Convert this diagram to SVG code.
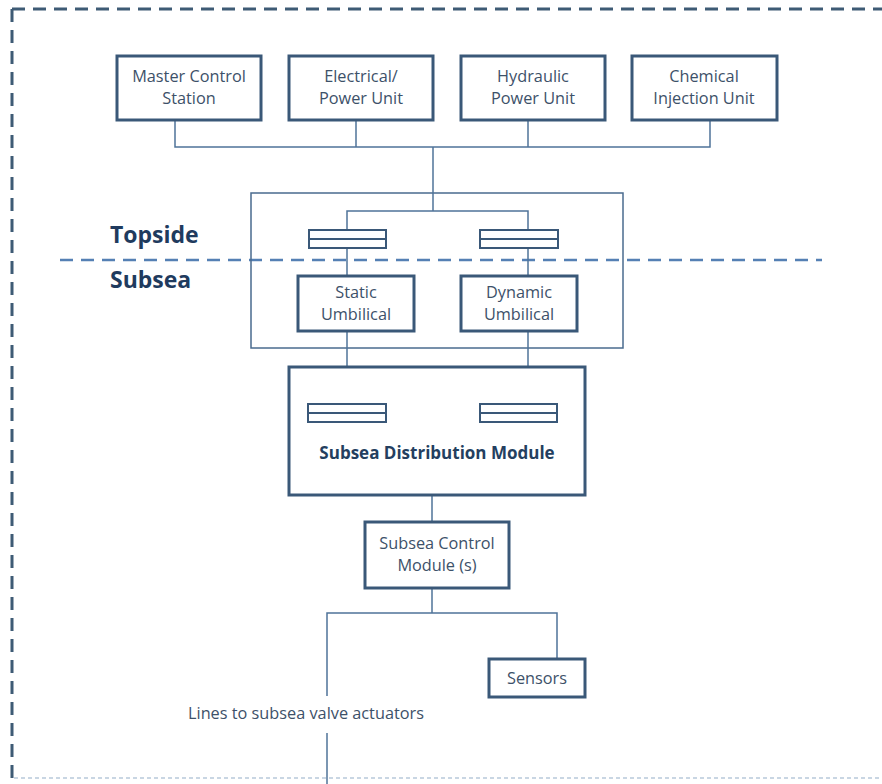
<svg xmlns="http://www.w3.org/2000/svg" width="882" height="784" viewBox="0 0 882 784">
  <style>
    .frame { fill: none; stroke: #3e5b75; stroke-width: 3; stroke-dasharray: 13 8; }
    .split { fill: none; stroke: #5580b4; stroke-width: 2.5; stroke-dasharray: 13 8; }
    .box { fill: #ffffff; stroke: #3a5878; stroke-width: 3; }
    .enclosure { fill: none; stroke: #4a6b8e; stroke-width: 1.5; }
    .joint { fill: #ffffff; stroke: #3a5878; stroke-width: 2; }
    .wire { fill: none; stroke: #4f7399; stroke-width: 1.5; }
    .lbl { font-family: "Open Sans", "Liberation Sans", sans-serif; font-size: 16.3px; fill: #3d5169; text-anchor: middle; }
    .zone { font-family: "Open Sans", "Liberation Sans", sans-serif; font-size: 23px; font-weight: bold; fill: #1f3b5e; }
    .strong { font-family: "Open Sans", "Liberation Sans", sans-serif; font-size: 17px; font-weight: bold; fill: #243f5f; text-anchor: middle; }
  </style>

  <rect width="882" height="784" fill="#ffffff"/>

  <!-- outer boundary -->
  <g id="boundary">
    <line class="frame" x1="12" y1="9" x2="882" y2="9"/>
    <line class="frame" x1="12" y1="9" x2="12" y2="784"/>
    <line x1="14" y1="778" x2="882" y2="778" stroke="#c9d6e3" stroke-width="2" stroke-dasharray="4 3"/>
  </g>

  <!-- topside / subsea split -->
  <g id="waterline">
    <line class="split" x1="60" y1="260" x2="822" y2="260"/>
    <text class="zone" x="110" y="243">Topside</text>
    <text class="zone" x="110" y="288">Subsea</text>
  </g>

  <!-- umbilical enclosure -->
  <g id="umbilical-enclosure">
    <rect class="enclosure" x="251" y="193" width="372" height="155"/>
  </g>

  <!-- connectors -->
  <g id="connectors">
    <path class="wire" d="M175 120 V147 H710 V120"/>
    <path class="wire" d="M356 120 V147"/>
    <path class="wire" d="M528 120 V147"/>
    <path class="wire" d="M433 147 V211"/>
    <path class="wire" d="M347 230 V211 H528 V230"/>
    <path class="wire" d="M347 248 V276"/>
    <path class="wire" d="M528 248 V276"/>
    <path class="wire" d="M347 331 V404"/>
    <path class="wire" d="M528 331 V404"/>
    <path class="wire" d="M432 495 V522"/>
    <path class="wire" d="M432 588 V613"/>
    <path class="wire" d="M327 696 V613 H557 V659"/>
    <path class="wire" d="M327 733 V784"/>
  </g>

  <!-- topside units -->
  <g id="master-control-station">
    <rect class="box" x="117" y="56" width="144" height="64"/>
    <text class="lbl" x="189" y="82">Master Control</text>
    <text class="lbl" x="189" y="104">Station</text>
  </g>
  <g id="electrical-power-unit">
    <rect class="box" x="289" y="56" width="144" height="64"/>
    <text class="lbl" x="361" y="82">Electrical/</text>
    <text class="lbl" x="361" y="104">Power Unit</text>
  </g>
  <g id="hydraulic-power-unit">
    <rect class="box" x="461" y="56" width="144" height="64"/>
    <text class="lbl" x="533" y="82">Hydraulic</text>
    <text class="lbl" x="533" y="104">Power Unit</text>
  </g>
  <g id="chemical-injection-unit">
    <rect class="box" x="632" y="56" width="145" height="64"/>
    <text class="lbl" x="704" y="82">Chemical</text>
    <text class="lbl" x="704" y="104">Injection Unit</text>
  </g>

  <!-- topside terminations -->
  <g id="topside-joint-static">
    <rect class="joint" x="309" y="230" width="77" height="18"/>
    <line class="joint" x1="309" y1="239" x2="386" y2="239"/>
  </g>
  <g id="topside-joint-dynamic">
    <rect class="joint" x="480" y="230" width="78" height="18"/>
    <line class="joint" x1="480" y1="239" x2="558" y2="239"/>
  </g>

  <!-- umbilicals -->
  <g id="static-umbilical">
    <rect class="box" x="298" y="276" width="116" height="55"/>
    <text class="lbl" x="356" y="298">Static</text>
    <text class="lbl" x="356" y="320">Umbilical</text>
  </g>
  <g id="dynamic-umbilical">
    <rect class="box" x="461" y="276" width="116" height="55"/>
    <text class="lbl" x="519" y="298">Dynamic</text>
    <text class="lbl" x="519" y="320">Umbilical</text>
  </g>

  <!-- subsea distribution module -->
  <g id="subsea-distribution-module">
    <rect class="box" x="289" y="367" width="296" height="128"/>
    <rect class="joint" x="308" y="404" width="78" height="18"/>
    <line class="joint" x1="308" y1="413" x2="386" y2="413"/>
    <rect class="joint" x="480" y="404" width="77" height="18"/>
    <line class="joint" x1="480" y1="413" x2="557" y2="413"/>
    <text class="strong" x="437" y="459">Subsea Distribution Module</text>
  </g>

  <!-- subsea control module -->
  <g id="subsea-control-module">
    <rect class="box" x="365" y="522" width="144" height="66"/>
    <text class="lbl" x="437" y="549">Subsea Control</text>
    <text class="lbl" x="437" y="571">Module (s)</text>
  </g>

  <!-- sensors -->
  <g id="sensors">
    <rect class="box" x="489" y="659" width="96" height="38"/>
    <text class="lbl" x="537" y="684">Sensors</text>
  </g>

  <!-- actuator lines label -->
  <g id="valve-actuator-lines">
    <text class="lbl" x="306" y="719">Lines to subsea valve actuators</text>
  </g>
</svg>
